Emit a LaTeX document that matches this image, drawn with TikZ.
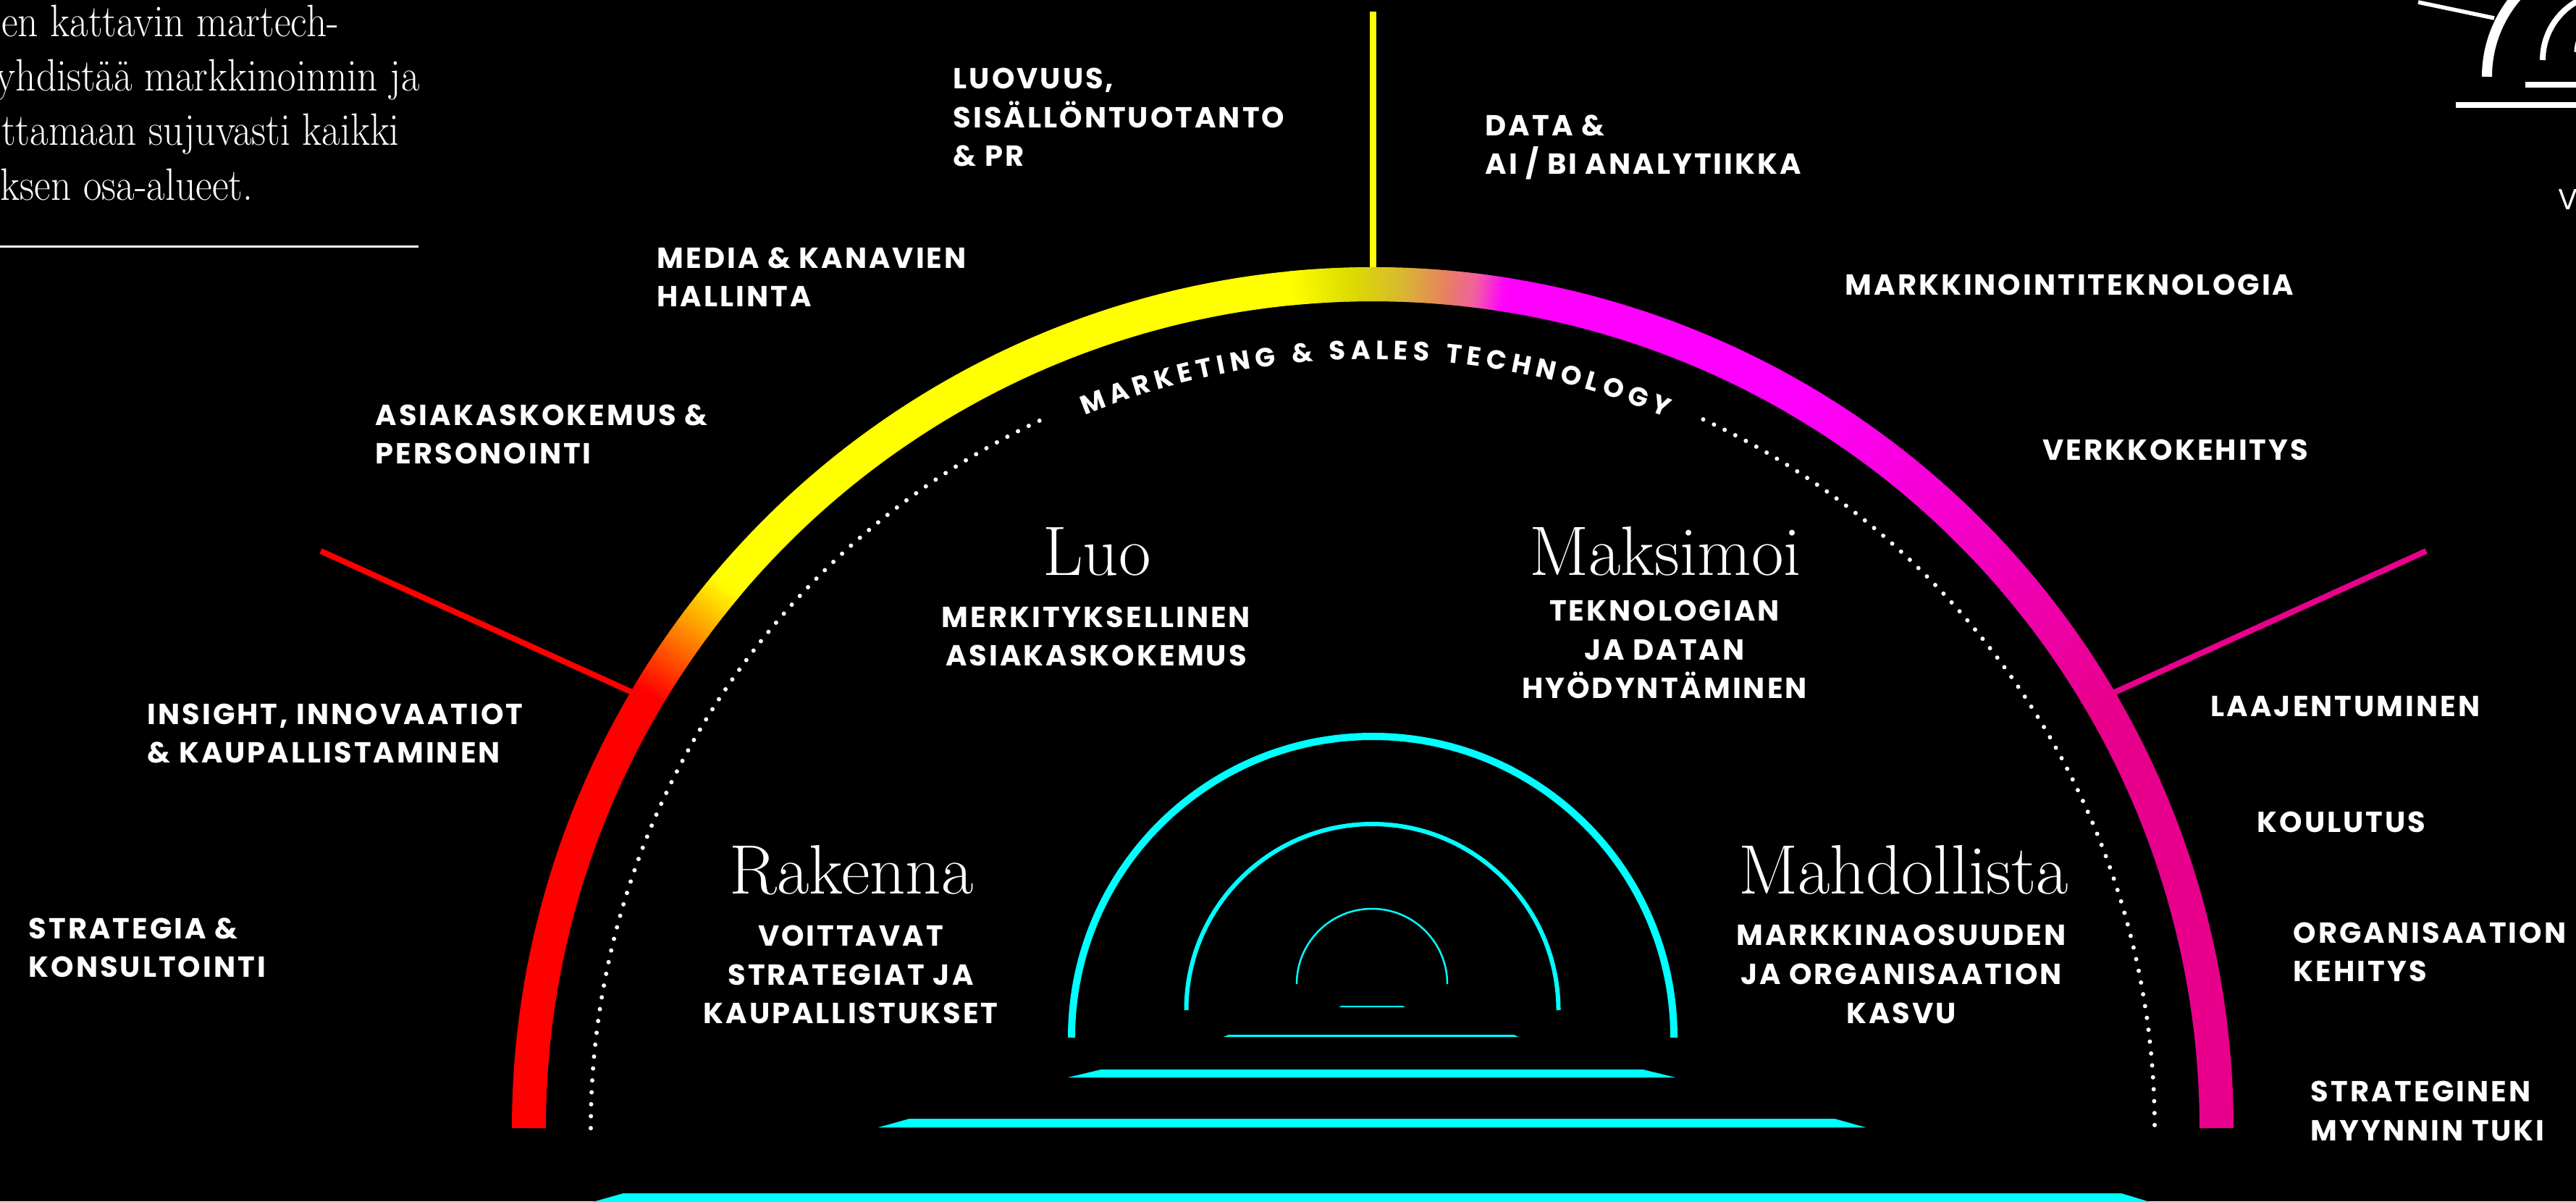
\documentclass[tikz,border=0pt]{standalone}
\usepackage{fontspec}
\usetikzlibrary{decorations.text}
\newfontfamily\labfont[LetterSpace=7.5]{Poppins}
\newfontfamily\popfont{Poppins}
\newcommand\arcfont{\popfont\bfseries\fontsize{10.4}{12}\selectfont}
\definecolor{neonred}{RGB}{255,0,0}
\definecolor{neonyellow}{RGB}{255,255,0}
\definecolor{neonmag}{RGB}{255,0,255}
\definecolor{arcpink}{RGB}{232,0,140}
\definecolor{olivey}{RGB}{220,220,0}
\definecolor{goldy}{RGB}{216,184,48}
\definecolor{salmony}{RGB}{232,128,96}
\definecolor{pinky}{RGB}{240,96,160}
\definecolor{neoncyan}{RGB}{0,255,255}
% gradient piece of the big arc: #1 start angle, #2 end angle, #3 start colour, #4 end colour
\newcommand\arcgrad[4]{%
  \pgfmathtruncatemacro\gN{max(6,abs(#2-#1)*5)}%
  \pgfmathtruncatemacro\gM{\gN-1}%
  \foreach \gi in {0,...,\gM}{%
    \pgfmathsetmacro\gA{#1+(#2-#1)*\gi/\gN}%
    \pgfmathsetmacro\gB{#1+(#2-#1)*(\gi+1.8)/\gN}%
    \pgfmathtruncatemacro\gP{round(100*(\gi+0.5)/\gN)}%
    \draw[bigarc, color=#4!\gP!#3] (C) ++(\gA:11.655) arc[start angle=\gA, end angle=\gB, radius=11.655];
  }}
\begin{document}
\begin{tikzpicture}[
  bigarc/.style={line width=0.47cm},
  dots/.style={white, line width=0.06cm, line cap=round, dash pattern=on 0pt off 0.165cm},
  cyanarc/.style={neoncyan},
  lab/.style={text=white, font=\labfont\bfseries\fontsize{11.4}{15.36}\selectfont, inner sep=0pt, align=left, anchor=base west},
  labc/.style={lab, align=center, anchor=base},
  bigword/.style={text=white, font=\fontsize{27.5}{31}\selectfont, inner sep=0pt, anchor=base},
  para/.style={text=white, font=\fontsize{15.8}{19}\selectfont, inner sep=0pt, anchor=base west}
]
\useasboundingbox (0,0) rectangle (35.58,16.59);
\fill[black] (0,0) rectangle (35.58,16.59);

% centre of the big arc
\coordinate (C) at (18.96,1.01);
\coordinate (arctop) at (18.96,12.90);
\coordinate (ytop) at (18.96,16.43);
\coordinate (rout) at (4.43,8.98);
\coordinate (rin) at (8.73,7.03);
\coordinate (pout) at (33.51,8.98);
\coordinate (pin) at (29.21,7.03);

% spokes
\draw[neonyellow, line width=0.09cm] (ytop) -- (arctop);
\draw[neonred, line width=0.08cm] (rout) -- (rin);
\draw[arcpink, line width=0.08cm] (pout) -- (pin);

% big gradient arc: solid parts
\draw[bigarc, neonred] (C) ++(180:11.655) arc[start angle=180, end angle=148.8, radius=11.655];
\draw[bigarc, neonyellow] (C) ++(140.2:11.655) arc[start angle=140.2, end angle=95.4, radius=11.655];
\draw[bigarc, neonmag] (C) ++(81.2:11.655) arc[start angle=81.2, end angle=59.8, radius=11.655];
\draw[bigarc, arcpink] (C) ++(30.2:11.655) arc[start angle=30.2, end angle=0, radius=11.655];
% gradient parts
\arcgrad{149}{140}{neonred}{neonyellow}
\arcgrad{95.6}{91.5}{neonyellow}{olivey}
\arcgrad{91.5}{88}{olivey}{goldy}
\arcgrad{88}{85}{goldy}{salmony}
\arcgrad{85}{83}{salmony}{pinky}
\arcgrad{83}{81}{pinky}{neonmag}
\arcgrad{60}{30}{neonmag}{arcpink}

% dotted inner arc
\draw[dots] (C) ++(180:10.80) arc[start angle=180, end angle=115.0, radius=10.80];
\draw[dots] (C) ++(65.0:10.80) arc[start angle=65.0, end angle=0, radius=10.80];
\path[decorate, decoration={text along path, text color=white,
  text={|\arcfont|MARKETING {\&} SALES TECHNOLOGY}, text align={fit to path}}]
  (C) ++(112:10.62) arc[start angle=112, end angle=67.6, radius=10.62];

% cyan arcs
\coordinate (CA) at (18.96,2.26);
\coordinate (CB) at (18.955,2.64);
\coordinate (CC) at (18.95,3.00);
\draw[cyanarc, line width=0.10cm] (CA) ++(180:4.16) arc[start angle=180, end angle=0, radius=4.16];
\draw[cyanarc, line width=0.06cm] (CB) ++(180:2.57) arc[start angle=180, end angle=0, radius=2.57];
\draw[cyanarc, line width=0.025cm] (CC) ++(180:1.04) arc[start angle=180, end angle=0, radius=1.04];

% cyan bars
\fill[neoncyan] (18.52,2.70) -- (19.38,2.70) -- (19.40,2.68) -- (18.50,2.68) -- cycle;
\fill[neoncyan] (16.97,2.30) -- (20.91,2.30) -- (20.97,2.27) -- (16.90,2.27) -- cycle;
\fill[neoncyan] (15.21,1.82) -- (22.69,1.82) -- (23.14,1.71) -- (14.75,1.71) -- cycle;
\fill[neoncyan] (12.56,1.14) -- (25.34,1.14) -- (25.77,1.02) -- (12.13,1.02) -- cycle;
\fill[neoncyan] (8.61,0.11) -- (29.30,0.11) -- (29.83,-0.05) -- (8.04,-0.05) -- cycle;

% top-right partial emblem
\coordinate (I1) at (36.05,15.53);
\coordinate (I2) at (36.05,15.76);
\coordinate (I3) at (36.05,15.87);
\draw[white, line width=0.14cm] (I1) ++(180:1.70) arc[start angle=180, end angle=90, radius=1.70];
\draw[white, line width=0.08cm] (I2) ++(180:0.93) arc[start angle=180, end angle=90, radius=0.93];
\draw[white, line width=0.05cm] (I3) ++(180:0.47) arc[start angle=180, end angle=90, radius=0.47];
\draw[white, line width=0.055cm] (33.40,16.56) -- (34.45,16.34);
\draw[white, line width=0.08cm] (34.88,15.42) -- (35.70,15.42);
\draw[white, line width=0.08cm] (33.92,15.14) -- (35.70,15.14);
\node[text=white, font=\popfont\fontsize{11.4}{13}\selectfont, inner sep=0pt, anchor=base west] (vcut) at (35.33,13.69) {V};

% top-left paragraph (cut at the left edge)
\node[para] (p1) at (0.015,16.08) {\scalebox{1}[1.13]{en kattavin martech-}};
\node[para] (p2) at (-0.06,15.33) {\scalebox{1}[1.13]{yhdistää markkinoinnin ja}};
\node[para] (p3) at (0.015,14.58) {\scalebox{1}[1.13]{ttamaan sujuvasti kaikki}};
\node[para] (p4) at (0.0,13.82) {\scalebox{1}[1.13]{ksen osa-alueet.}};
\draw[white, line width=0.03cm] (0,13.18) -- (5.78,13.18);

% big serif words
\node[bigword] (luo) at (15.15,8.64) {Luo};
\node[bigword] (maks) at (23.00,8.64) {Maksimoi};
\node[bigword] (rak) at (11.76,4.24) {Rakenna};
\node[bigword] (mahd) at (26.29,4.24) {Mahdollista};

% centre labels (anchored at the baseline of the last line)
\node[labc] (l13) at (15.14,7.39) {MERKITYKSELLINEN\\ASIAKASKOKEMUS};
\node[labc] (l14) at (22.99,6.94) {TEKNOLOGIAN\\JA DATAN\\HYÖDYNTÄMINEN};
\node[labc] (l15) at (11.75,2.45) {VOITTAVAT\\STRATEGIAT JA\\KAUPALLISTUKSET};
\node[labc] (l16) at (26.26,2.46) {MARKKINAOSUUDEN\\JA ORGANISAATION\\KASVU};

% outer labels (anchored at the baseline of the last line)
\node[lab] (l1) at (0.39,3.09) {STRATEGIA \&\\KONSULTOINTI};
\node[lab] (l2) at (2.03,6.05) {INSIGHT, INNOVAATIOT\\\& KAUPALLISTAMINEN};
\node[lab] (l3) at (5.18,10.18) {ASIAKASKOKEMUS \&\\PERSONOINTI};
\node[lab] (l4) at (9.07,12.35) {MEDIA \& KANAVIEN\\HALLINTA};
\node[lab] (l5) at (13.16,14.29) {LUOVUUS,\\SISÄLLÖNTUOTANTO\\\& PR};
\node[lab] (l6) at (20.51,14.18) {DATA \&\\AI / BI ANALYTIIKKA};
\node[lab] (l7) at (25.48,12.51) {MARKKINOINTITEKNOLOGIA};
\node[lab] (l8) at (28.21,10.23) {VERKKOKEHITYS};
\node[lab] (l9) at (30.53,6.69) {LAAJENTUMINEN};
\node[lab] (l10) at (31.17,5.09) {KOULUTUS};
\node[lab] (l11) at (31.67,3.03) {ORGANISAATION\\KEHITYS};
\node[lab] (l12) at (31.91,0.84) {STRATEGINEN\\MYYNNIN TUKI};
\end{tikzpicture}
\end{document}
